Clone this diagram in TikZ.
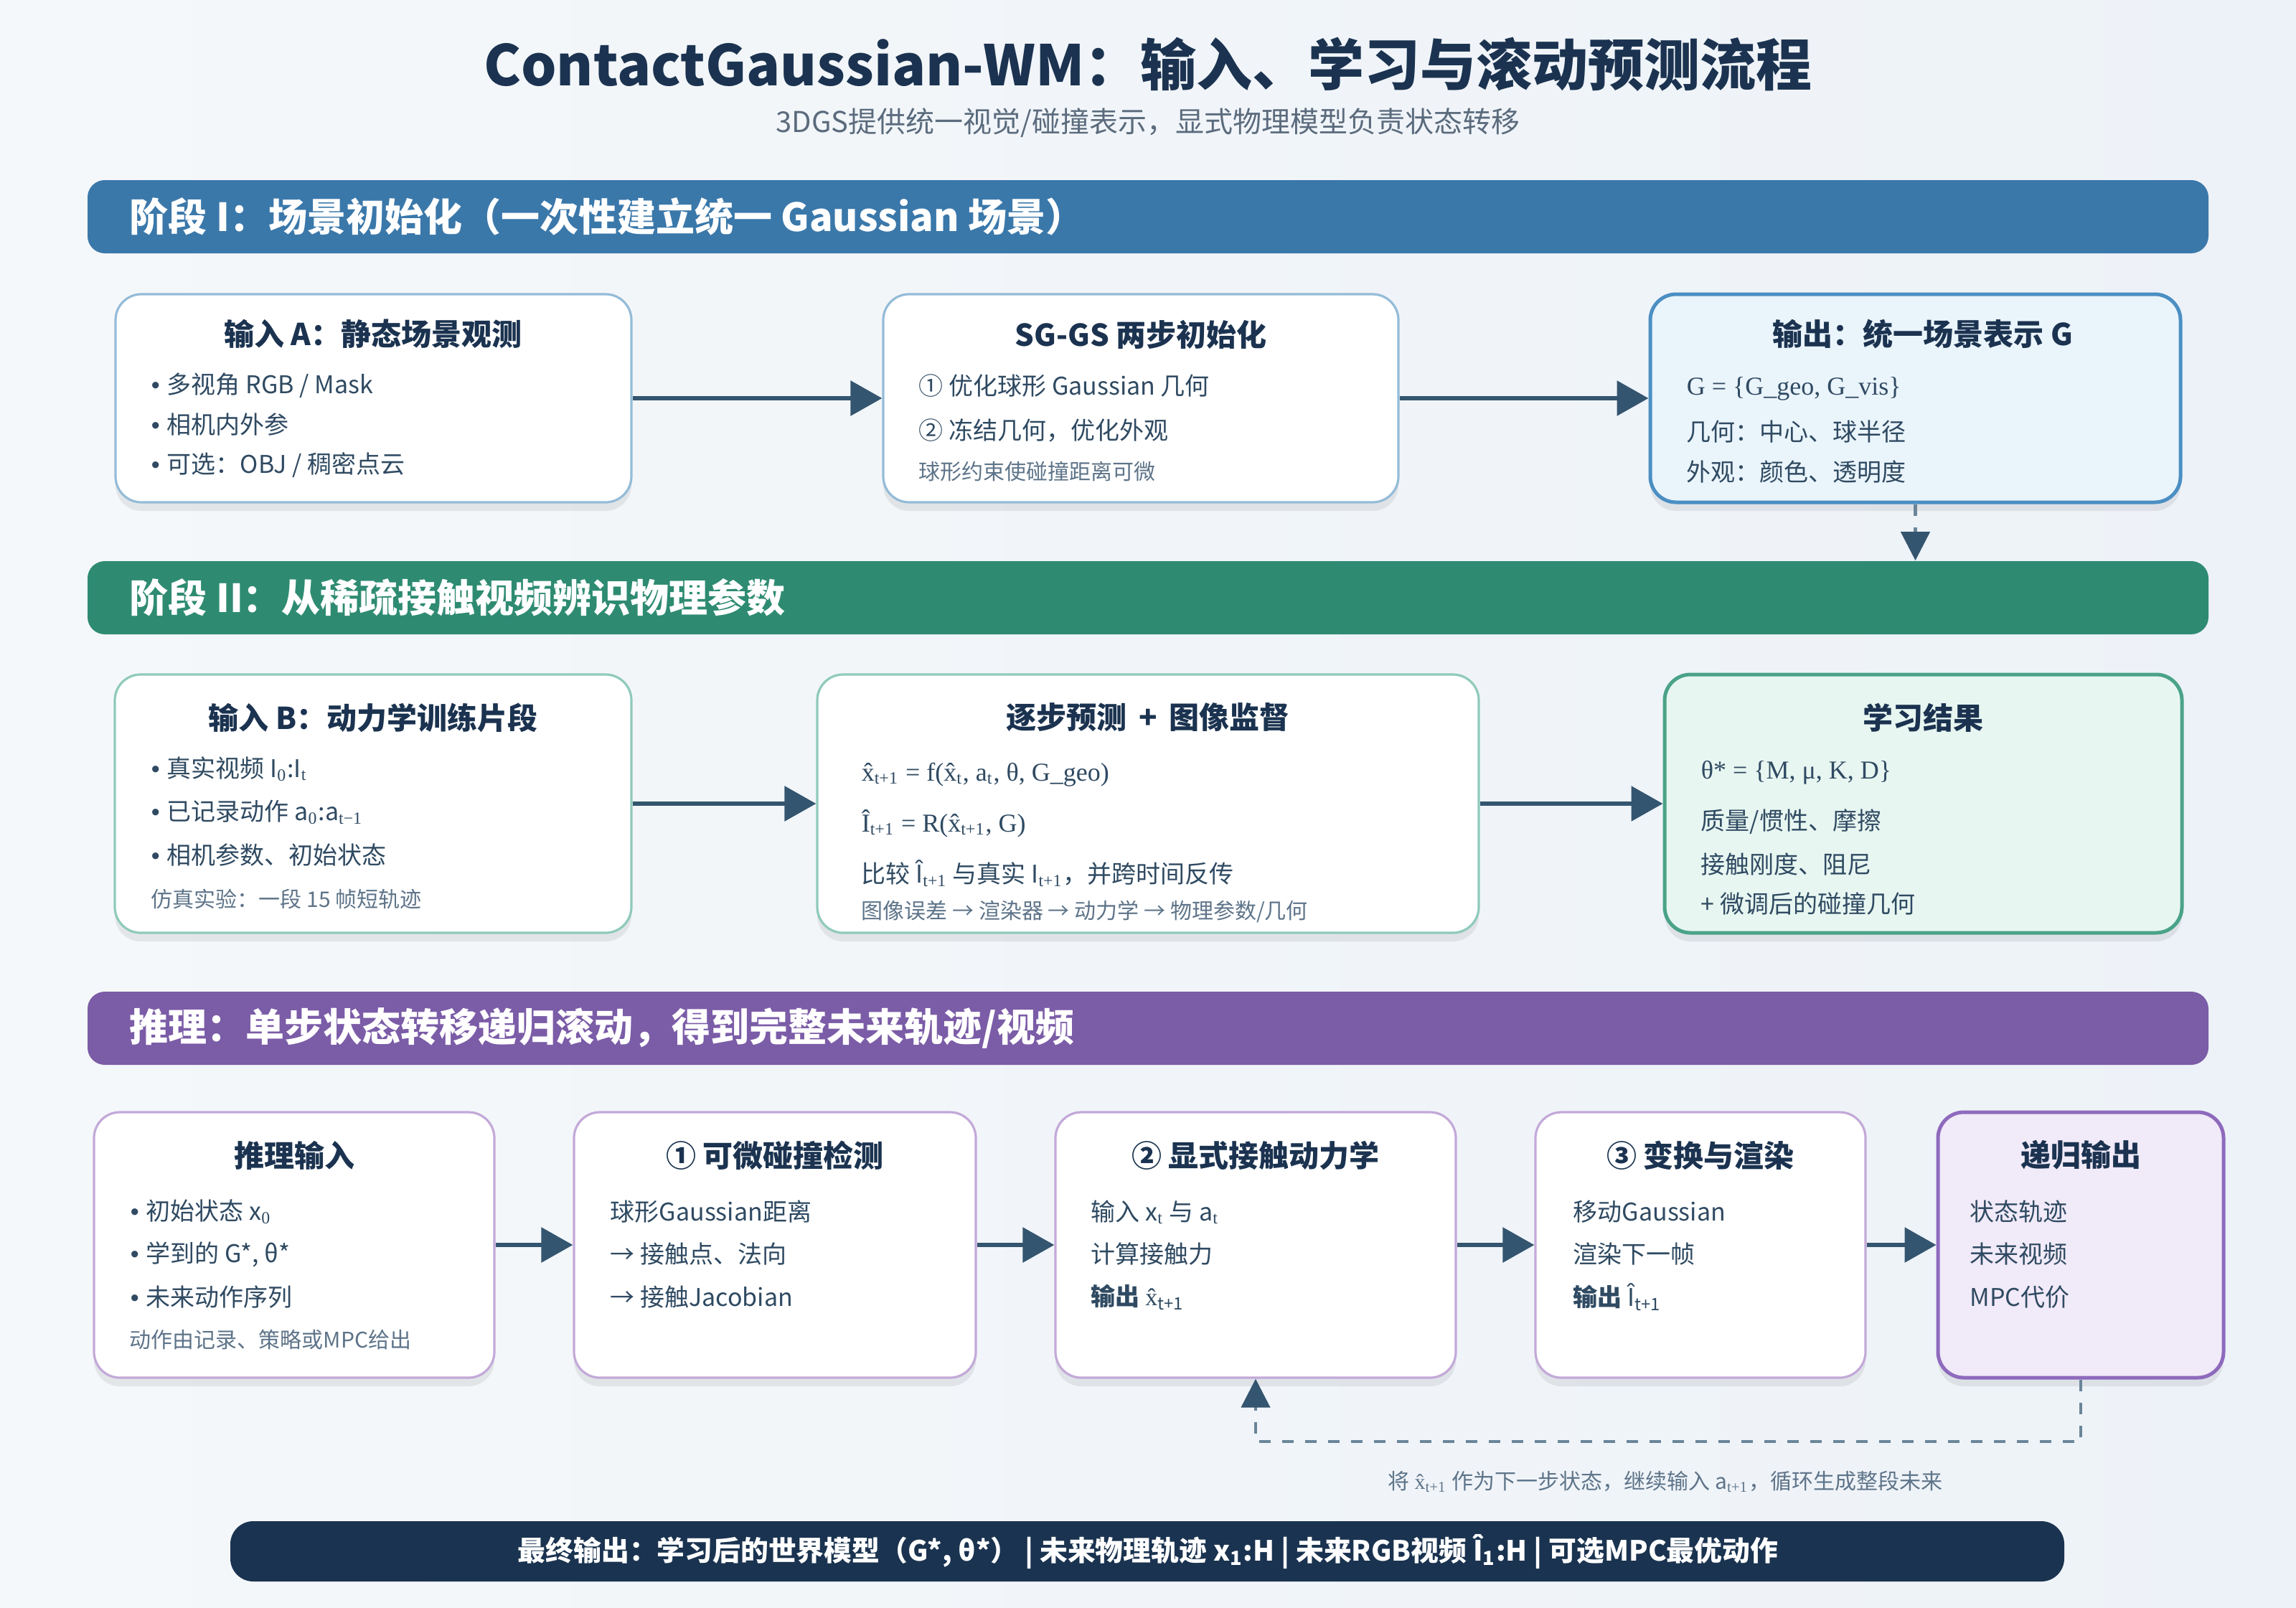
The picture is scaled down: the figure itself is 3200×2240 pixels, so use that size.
\documentclass[tikz,border=0pt]{standalone}
\usepackage{fontspec}
\setmainfont{Noto Sans CJK SC}
\newfontfamily\serf{Liberation Serif}
\newfontfamily\lsans{Liberation Sans}
\usetikzlibrary{arrows.meta,shadows,calc}
\definecolor{bgA}{HTML}{F5F8FA}
\definecolor{bgB}{HTML}{EDF2F8}
\definecolor{navy}{HTML}{1B3350}
\definecolor{subg}{HTML}{5B6B7D}
\definecolor{bodyc}{HTML}{2F4A62}
\definecolor{notec}{HTML}{5E7489}
\definecolor{arrc}{HTML}{34556F}
\definecolor{dashc}{HTML}{6A8599}
\definecolor{bandA}{HTML}{3B78AA}
\definecolor{bandB}{HTML}{2E8B72}
\definecolor{bandC}{HTML}{7B5CA7}
\definecolor{bandD}{HTML}{1A3350}
\definecolor{bdA}{HTML}{94BCD8}
\definecolor{bdAo}{HTML}{4B8FC3}
\definecolor{fillAo}{HTML}{EAF4FB}
\definecolor{bdB}{HTML}{8FCABA}
\definecolor{bdBo}{HTML}{4AA388}
\definecolor{fillBo}{HTML}{E8F6F1}
\definecolor{bdC}{HTML}{C3A9D8}
\definecolor{bdCo}{HTML}{8E6ABD}
\definecolor{fillCo}{HTML}{F1EAF8}
\newcommand\mysub[1]{\textsubscript{\serf #1}}
\newcommand\bul{{\lsans •}\hspace{0.3em}}
\begin{document}
\begin{tikzpicture}[x=0.25pt,y=-0.25pt,
  box/.style={draw, rounded corners=9pt, line width=0.8pt, fill=white, inner sep=0pt,
     drop shadow={shadow xshift=0pt, shadow yshift=-3pt, opacity=0.07, fill=black}},
  band/.style={rounded corners=6pt, minimum width=739pt, minimum height=25.5pt, inner sep=0pt},
  bandtxt/.style={anchor=west, text=white, inner sep=0pt, font=\bfseries\fontsize{13.5}{16}\selectfont},
  btitle/.style={text=navy, inner sep=0pt, font=\bfseries\fontsize{10.5}{13}\selectfont},
  body/.style={anchor=west, text=bodyc, inner sep=0pt, font=\fontsize{8.5}{10}\selectfont},
  formula/.style={anchor=west, text=bodyc, inner sep=0pt, font=\serf\fontsize{9}{11}\selectfont},
  note/.style={anchor=west, text=notec, inner sep=0pt, font=\fontsize{7.5}{9}\selectfont},
  flow/.style={-{Triangle[length=11pt,width=12pt]}, line width=1.5pt, draw=arrc},
  dflow/.style={-{Triangle[length=10pt,width=10pt,color=arrc]}, line width=1.1pt, draw=dashc, dash pattern=on 4pt off 4pt},
]
\useasboundingbox (0,0) rectangle (3200,2240);
\shade[left color=bgA, right color=bgB] (0,0) rectangle (3200,2240);

% title
\node[font=\bfseries\fontsize{19.5}{24}\selectfont, text=navy] (title) at (1600,90) {ContactGaussian-WM：输入、学习与滚动预测流程};
\node[font=\fontsize{10}{12}\selectfont, text=subg] (subt) at (1600,171) {3DGS提供统一视觉/碰撞表示，显式物理模型负责状态转移};

% phase bands
\node[band, fill=bandA] (p1) at (1600,302) {};
\node[bandtxt] (p1t) at (180,302) {阶段 I：场景初始化（一次性建立统一 Gaussian 场景）};
\node[band, fill=bandB] (p2) at (1600,833) {};
\node[bandtxt] (p2t) at (180,833) {阶段 II：从稀疏接触视频辨识物理参数};
\node[band, fill=bandC] (p3) at (1600,1433) {};
\node[bandtxt] (p3t) at (180,1433) {推理：单步状态转移递归滚动，得到完整未来轨迹/视频};

% row 1
\node[box, draw=bdA, minimum width=179.75pt, minimum height=72.5pt] (a) at (520.5,555) {};
\node[btitle] (at) at (520,465) {输入 A：静态场景观测};
\node[body] (a1) at (210,537) {\bul 多视角 RGB / Mask};
\node[body] (a2) at (210,592) {\bul 相机内外参};
\node[body] (a3) at (210,648) {\bul 可选：OBJ / 稠密点云};

\node[box, draw=bdA, minimum width=179.5pt, minimum height=72.5pt] (sg) at (1590,555) {};
\node[btitle] (sgt) at (1590,466) {SG-GS 两步初始化};
\node[body] (sg1) at (1280,538) {① 优化球形 Gaussian 几何};
\node[body] (sg2) at (1280,600) {② 冻结几何，优化外观};
\node[note] (sg3) at (1280,657) {球形约束使碰撞距离可微};

\node[box, draw=bdAo, fill=fillAo, line width=1.25pt, minimum width=184.75pt, minimum height=72.5pt] (out) at (2669.5,555) {};
\node[btitle] (outt) at (2680,465) {输出：统一场景表示 G};
\node[formula] (o1) at (2350,542) {G = \{G\_geo, G\_vis\}};
\node[body] (o2) at (2350,602) {几何：中心、球半径};
\node[body] (o3) at (2350,658) {外观：颜色、透明度};

\draw[flow] (a.east) -- (sg.west);
\draw[flow] (sg.east) -- (out.west);
\draw[dflow] (out.south) -- (out.south |- p2.north);

% row 2
\node[box, draw=bdB, minimum width=180pt, minimum height=90pt] (b) at (520,1120) {};
\node[btitle] (bt) at (520,1000) {输入 B：动力学训练片段};
\node[body] (b1) at (210,1072) {\bul 真实视频 I\mysub{0}:I\mysub{t}};
\node[body] (b2) at (210,1132) {\bul 已记录动作 a\mysub{0}:a\mysub{t−1}};
\node[body] (b3) at (210,1192) {\bul 相机参数、初始状态};
\node[note] (b4) at (210,1253) {仿真实验：一段 15 帧短轨迹};

\node[box, draw=bdB, minimum width=230.5pt, minimum height=90pt] (m) at (1600,1120) {};
\node[btitle] (mt) at (1600,1000) {逐步预测 \,+\, 图像监督};
\node[formula] (m1) at (1200,1080) {\^{x}\textsubscript{t+1} = f(\^{x}\textsubscript{t}, a\textsubscript{t}, θ, G\_geo)};
\node[formula] (m2) at (1200,1148) {Î\textsubscript{t+1} = R(\^{x}\textsubscript{t+1}, G)};
\node[body] (m3) at (1200,1217) {比较 Î\mysub{t+1} 与真实 I\mysub{t+1}，并跨时间反传};
\node[note] (m4) at (1200,1270) {图像误差 → 渲染器 → 动力学 → 物理参数/几何};

\node[box, draw=bdBo, fill=fillBo, line width=1.25pt, minimum width=180.25pt, minimum height=90pt] (r) at (2680.5,1120) {};
\node[btitle] (rt) at (2680,1000) {学习结果};
\node[formula] (r1) at (2370,1077) {θ* = \{M, μ, K, D\}};
\node[body] (r2) at (2370,1145) {质量/惯性、摩擦};
\node[body] (r3) at (2370,1205) {接触刚度、阻尼};
\node[body] (r4) at (2370,1260) {+ 微调后的碰撞几何};

\draw[flow] (b.east) -- (m.west);
\draw[flow] (m.east) -- (r.west);

% row 3
\node[box, draw=bdC, minimum width=139.5pt, minimum height=92.5pt] (s1) at (410,1735) {};
\node[btitle] (s1t) at (410,1610) {推理输入};
\node[body] (s1a) at (181,1689) {\bul 初始状态 x\mysub{0}};
\node[body] (s1b) at (181,1748) {\bul 学到的 G*, θ*};
\node[body] (s1c) at (181,1808) {\bul 未来动作序列};
\node[note] (s1d) at (180,1867) {动作由记录、策略或MPC给出};

\node[box, draw=bdC, minimum width=140pt, minimum height=92.5pt] (s2) at (1080,1735) {};
\node[btitle] (s2t) at (1080,1610) {① 可微碰撞检测};
\node[body] (s2a) at (850,1689) {球形Gaussian距离};
\node[body] (s2b) at (850,1748) {→ 接触点、法向};
\node[body] (s2c) at (850,1808) {→ 接触Jacobian};

\node[box, draw=bdC, minimum width=139.5pt, minimum height=92.5pt] (s3) at (1750,1735) {};
\node[btitle] (s3t) at (1750,1610) {② 显式接触动力学};
\node[body] (s3a) at (1520,1689) {输入 x\mysub{t} 与 a\mysub{t}};
\node[body] (s3b) at (1520,1748) {计算接触力};
\node[body] (s3c) at (1520,1808) {\textbf{输出} {\serf\^{x}}\textsubscript{t+1}};

\node[box, draw=bdC, minimum width=115pt, minimum height=92.5pt] (s4) at (2370,1735) {};
\node[btitle] (s4t) at (2370,1610) {③ 变换与渲染};
\node[body] (s4a) at (2192,1689) {移动Gaussian};
\node[body] (s4b) at (2192,1748) {渲染下一帧};
\node[body] (s4c) at (2192,1808) {\textbf{输出} Î\textsubscript{t+1}};

\node[box, draw=bdCo, fill=fillCo, line width=1.25pt, minimum width=99.5pt, minimum height=92.5pt] (s5) at (2900,1735) {};
\node[btitle] (s5t) at (2900,1610) {递归输出};
\node[body] (s5a) at (2745,1689) {状态轨迹};
\node[body] (s5b) at (2745,1748) {未来视频};
\node[body] (s5c) at (2745,1808) {MPC代价};

\draw[flow] (s1.east) -- (s2.west);
\draw[flow] (s2.east) -- (s3.west);
\draw[flow] (s3.east) -- (s4.west);
\draw[flow] (s4.east) -- (s5.west);

\coordinate (fb) at (2900,2009);
\draw[dflow] (s5.south) -- (fb) -| (s3.south);
\node[note, anchor=center] (fbl) at (2321,2065) {将 {\serf\^{x}}\mysub{t+1} 作为下一步状态，继续输入 a\mysub{t+1}，循环生成整段未来};

% bottom band
\node[fill=bandD, rounded corners=8pt, minimum width=639pt, minimum height=21pt, inner sep=0pt] (fin) at (1599,2162) {};
\node[text=white, inner sep=0pt, font=\bfseries\fontsize{9.7}{12}\selectfont] (fint) at (1600,2162) {最终输出：学习后的世界模型（G*, θ*） | 未来物理轨迹 x\textsubscript{1}:H | 未来RGB视频 Î\textsubscript{1}:H | 可选MPC最优动作};
\end{tikzpicture}
\end{document}
